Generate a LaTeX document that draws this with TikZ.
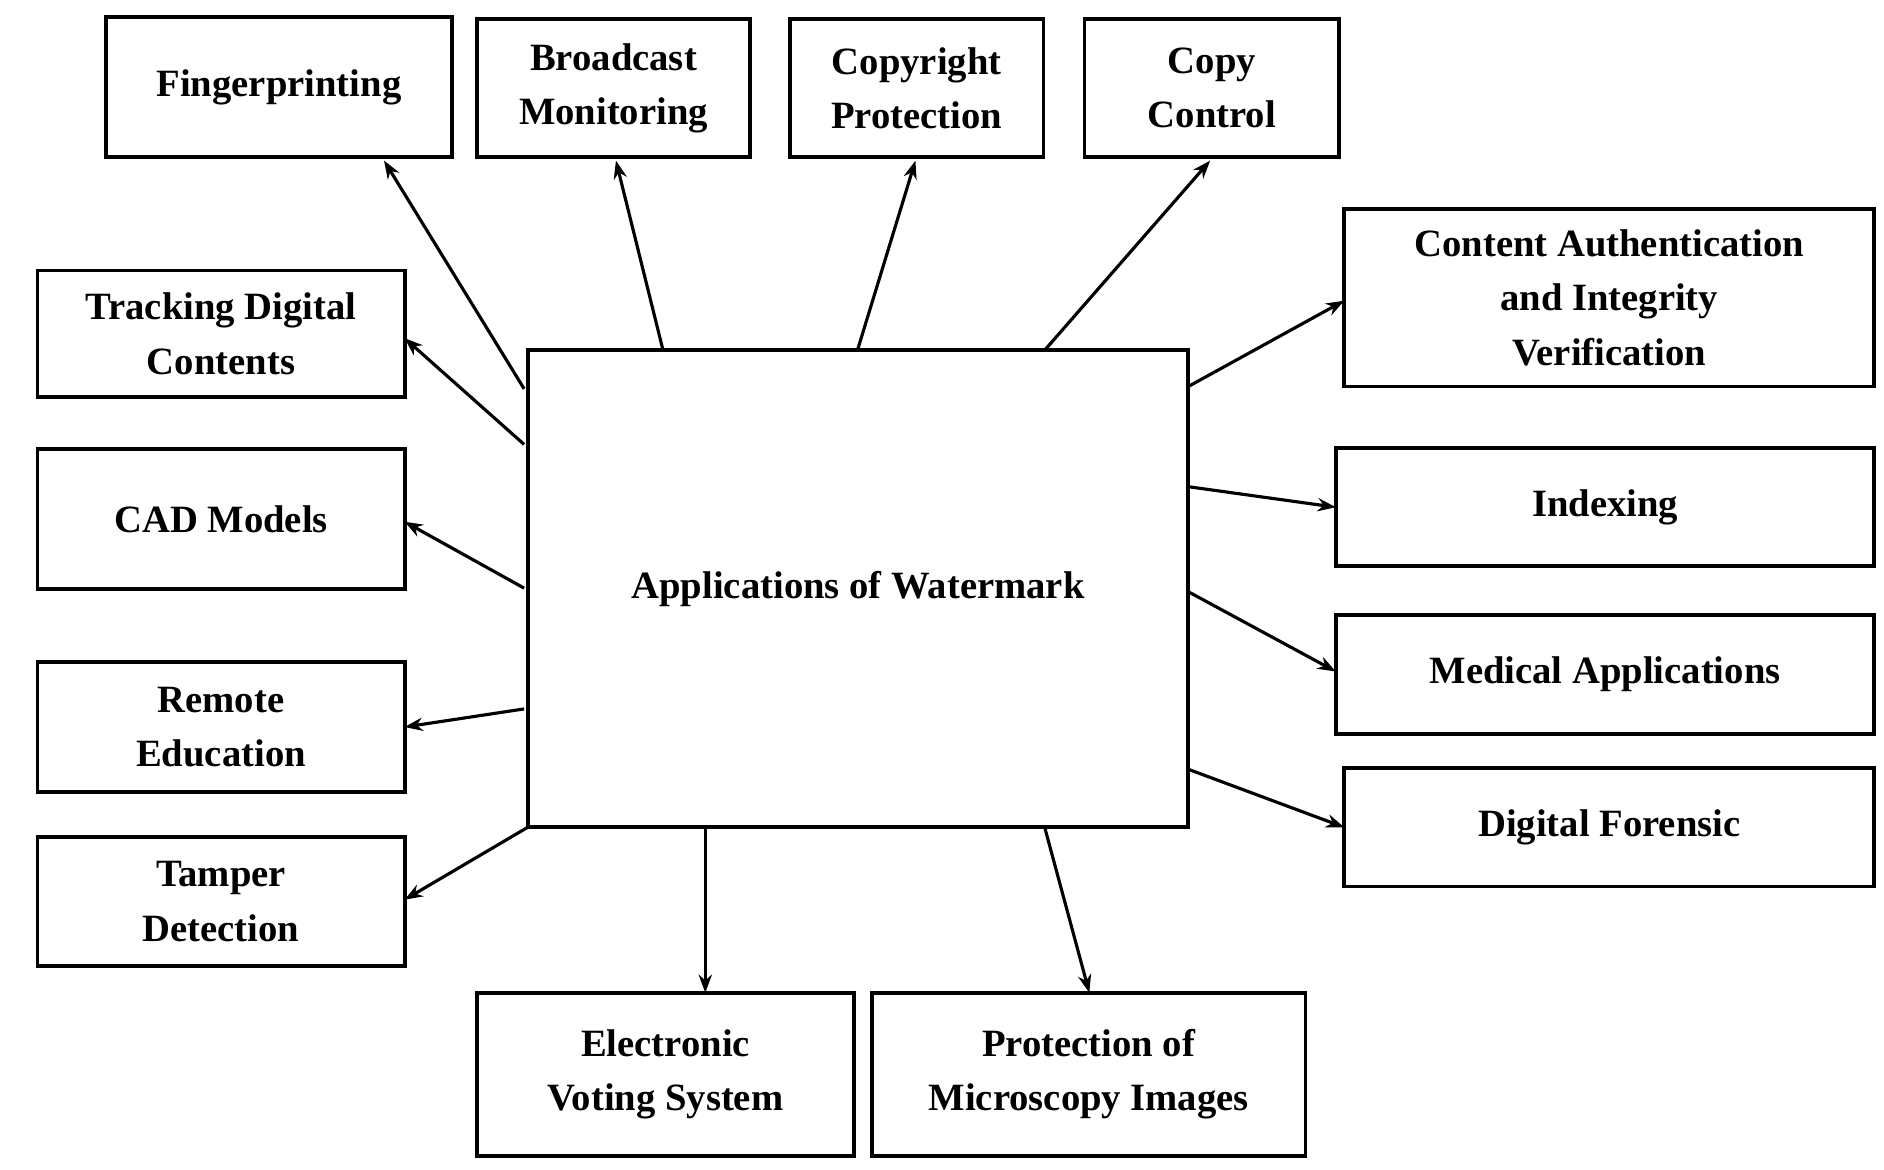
\documentclass[tikz,border=0pt]{standalone}
\usepackage{fontspec}
\setmainfont{Liberation Serif}
\usetikzlibrary{arrows.meta}
\begin{document}
\begin{tikzpicture}[x=1pt,y=-1pt,
 box/.style={draw,line width=3.2pt,align=center,font=\fontsize{32}{45}\selectfont\bfseries,inner sep=0pt},
 arr/.style={line width=2.6pt,-{Stealth[length=15pt,width=11pt]}}]
\useasboundingbox (0,0) rectangle (1560,968);
\newcommand\bx[6]{\node[box,minimum width=#4-#2,minimum height=#5-#3] (#1) at ({(#2+#4)/2},{(#3+#5)/2}) {#6};}
\bx{c}{437}{290}{984}{685}{Applications of Watermark}
\bx{f}{88}{14}{374}{130}{Fingerprinting}
\bx{b}{395}{16}{621}{130}{Broadcast\\Monitoring}
\bx{cp}{654}{16}{864}{130}{Copyright\\Protection}
\bx{cc}{898}{16}{1109}{130}{Copy\\Control}
\bx{ca}{1113}{173}{1552}{320}{Content Authentication\\and Integrity\\Verification}
\bx{t}{31}{224}{335}{329}{Tracking Digital\\Contents}
\bx{cad}{31}{372}{335}{488}{CAD Models}
\bx{re}{31}{548}{335}{656}{Remote\\Education}
\bx{td}{31}{693}{335}{800}{Tamper\\Detection}
\bx{ev}{395}{822}{707}{957}{Electronic\\Voting System}
\bx{pm}{722}{822}{1081}{957}{Protection of\\Microscopy Images}
\bx{ix}{1106}{371}{1552}{469}{Indexing}
\bx{ma}{1106}{509}{1552}{608}{Medical Applications}
\bx{df}{1113}{636}{1552}{734}{Digital Forensic}
\draw[arr] (434,322) -- (318,133);
\draw[arr] (549,290) -- (510,133);
\draw[arr] (710,290) -- (758,133);
\draw[arr] (865,290) -- (1002,133);
\draw[arr] (984,320) -- (1113,249);
\draw[arr] (984,403) -- (1106,420);
\draw[arr] (984,490) -- (1106,556);
\draw[arr] (984,637) -- (1113,685);
\draw[arr] (434,368) -- (335,280);
\draw[arr] (434,487) -- (335,432);
\draw[arr] (434,587) -- (335,602);
\draw[arr] (437,685) -- (335,745);
\draw[arr] (584,685) -- (584,822);
\draw[arr] (865,685) -- (902,822);
\end{tikzpicture}
\end{document}
